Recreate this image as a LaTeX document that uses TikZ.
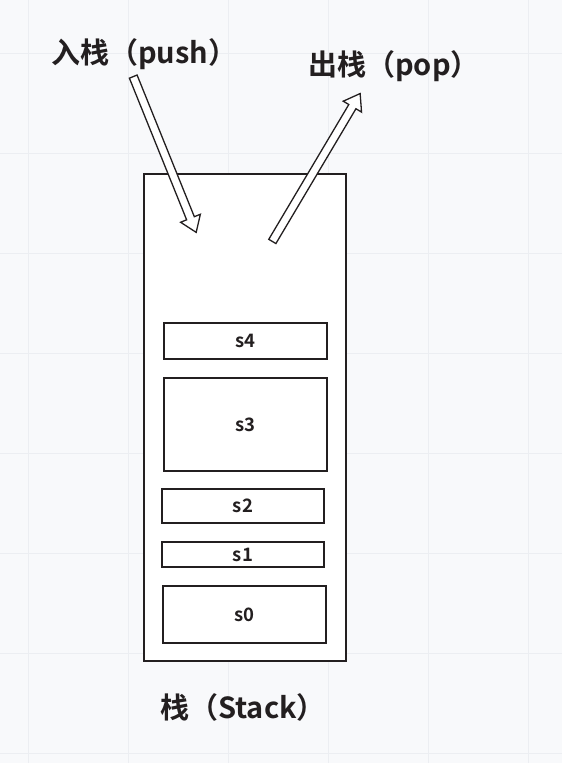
\documentclass[tikz,border=0pt]{standalone}
\usepackage{fontspec}
\setmainfont{Noto Sans CJK SC Bold}
\usetikzlibrary{shapes.arrows}
\definecolor{ink}{HTML}{231F20}
\definecolor{bg}{HTML}{F8F9FB}
\definecolor{gridc}{HTML}{ECEEF2}
\tikzset{
  cell/.style={draw=ink, line width=1.6pt, fill=white, inner sep=0pt, font=\fontsize{18.5}{18.5}\selectfont, text=ink},
  hollow/.style={single arrow, draw=ink, fill=white, line width=1.3pt, inner sep=3.5pt,
    single arrow head extend=6.5pt, single arrow tip angle=70},
  title/.style={font=\fontsize{29}{29}\selectfont, text=ink, inner sep=0pt}
}
\begin{document}
\begin{tikzpicture}[x=1pt,y=-1pt]
\fill[bg] (0,0) rectangle (562,763);
\useasboundingbox (0,0) rectangle (562,763);
\foreach \gx in {28,128,228,328,428,528} \draw[gridc, line width=0.8pt] (\gx,0) -- (\gx,763);
\foreach \gy in {53,153,253,353,453,553,653,753} \draw[gridc, line width=0.8pt] (0,\gy) -- (562,\gy);

\node[cell, minimum width=202pt, minimum height=487pt] (stack) at (245,417.5) {};
\node[cell, minimum width=163pt, minimum height=36pt] (s4) at (245.5,341) {s4};
\node[cell, minimum width=163pt, minimum height=93pt] (s3) at (245.5,424.5) {s3};
\node[cell, minimum width=162pt, minimum height=34pt] (s2) at (243,506) {s2};
\node[cell, minimum width=162pt, minimum height=25pt] (s1) at (243,554.5) {s1};
\node[cell, minimum width=163pt, minimum height=57pt] (s0) at (244.5,614.5) {s0};

\coordinate (pushtail) at (133,76);
\coordinate (poptail) at (272,242);
\node[hollow, minimum height=168pt, rotate=-68, anchor=tail] (pusharrow) at (pushtail) {};
\node[hollow, minimum height=172pt, rotate=59.3, anchor=tail] (poparrow) at (poptail) {};

\node[title, anchor=base west] (push) at (51,63) {入栈（push）};
\node[title, anchor=base west] (pop) at (308,75) {出栈（pop）};
\node[title, anchor=base west] (label) at (160,718) {栈（Stack）};
\end{tikzpicture}
\end{document}
